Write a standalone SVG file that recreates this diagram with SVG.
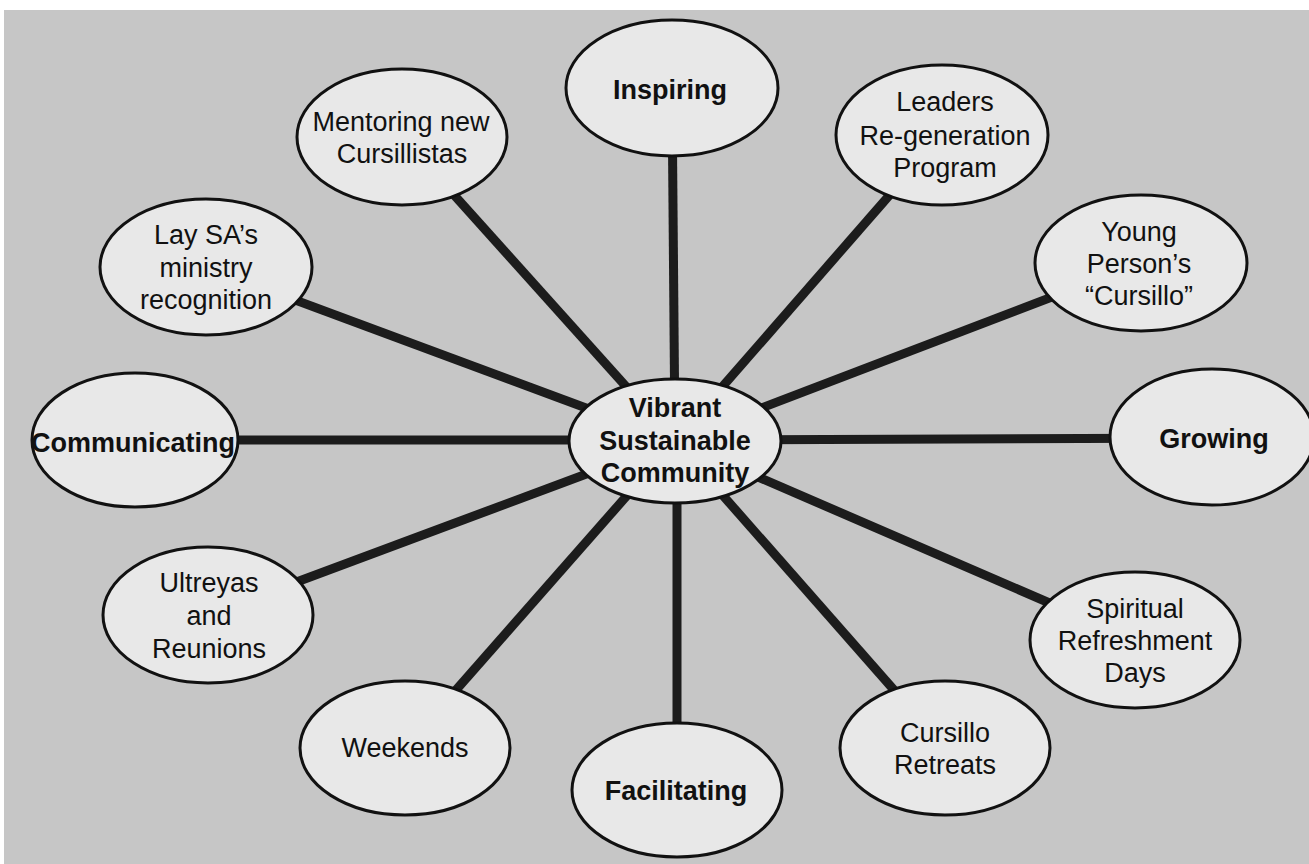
<svg xmlns="http://www.w3.org/2000/svg" width="1309" height="864" viewBox="0 0 1309 864">
<style>
.bg{fill:#c6c6c6}
.n{fill:#e8e8e8;stroke:#111;stroke-width:3}
.c line{stroke:#1c1c1c;stroke-width:9}
text{font-family:"Liberation Sans",Arial,sans-serif;font-size:27px;fill:#111;text-anchor:middle}
.b{font-weight:bold}
</style>
<rect x="0" y="0" width="1309" height="864" fill="#ffffff"/>
<rect class="bg" x="4" y="10" width="1305" height="854"/>
<g id="connectors" class="c">
<line x1="672" y1="88" x2="675" y2="441"/>
<line x1="402" y1="137" x2="675" y2="441"/>
<line x1="942" y1="135" x2="675" y2="441"/>
<line x1="206" y1="267" x2="675" y2="441"/>
<line x1="1141" y1="263" x2="675" y2="441"/>
<line x1="135" y1="440" x2="675" y2="440"/>
<line x1="1212" y1="438" x2="675" y2="440"/>
<line x1="208" y1="615" x2="675" y2="441"/>
<line x1="1135" y1="640" x2="675" y2="441"/>
<line x1="405" y1="748" x2="675" y2="441"/>
<line x1="945" y1="748" x2="675" y2="441"/>
<line x1="677" y1="790" x2="677" y2="441"/>
</g>
<g id="center">
<ellipse class="n" cx="675" cy="441" rx="106" ry="62"/>
<text class="b" x="675" y="417">Vibrant</text>
<text class="b" x="675" y="450">Sustainable</text>
<text class="b" x="675" y="482">Community</text>
</g>
<g id="inspiring">
<ellipse class="n" cx="672" cy="88" rx="106" ry="68"/>
<text class="b" x="670" y="99">Inspiring</text>
</g>
<g id="mentoring">
<ellipse class="n" cx="402" cy="137" rx="105" ry="68"/>
<text x="401" y="131">Mentoring new</text>
<text x="402" y="163">Cursillistas</text>
</g>
<g id="leaders">
<ellipse class="n" cx="942" cy="135" rx="106" ry="70"/>
<text x="945" y="111">Leaders</text>
<text x="945" y="145">Re-generation</text>
<text x="945" y="177">Program</text>
</g>
<g id="lay">
<ellipse class="n" cx="206" cy="267" rx="106" ry="68"/>
<text x="206" y="244">Lay SA’s</text>
<text x="206" y="277">ministry</text>
<text x="206" y="309">recognition</text>
</g>
<g id="young">
<ellipse class="n" cx="1141" cy="263" rx="106" ry="68"/>
<text x="1139" y="241">Young</text>
<text x="1139" y="273">Person’s</text>
<text x="1139" y="305">“Cursillo”</text>
</g>
<g id="communicating">
<ellipse class="n" cx="135" cy="440" rx="103" ry="67"/>
<text class="b" x="133" y="452">Communicating</text>
</g>
<g id="growing">
<ellipse class="n" cx="1212" cy="437" rx="102" ry="68"/>
<text class="b" x="1214" y="448">Growing</text>
</g>
<g id="ultreyas">
<ellipse class="n" cx="208" cy="615" rx="105" ry="68"/>
<text x="209" y="592">Ultreyas</text>
<text x="209" y="625">and</text>
<text x="209" y="658">Reunions</text>
</g>
<g id="spiritual">
<ellipse class="n" cx="1135" cy="640" rx="105" ry="68"/>
<text x="1135" y="618">Spiritual</text>
<text x="1135" y="650">Refreshment</text>
<text x="1135" y="682">Days</text>
</g>
<g id="weekends">
<ellipse class="n" cx="405" cy="748" rx="105" ry="67"/>
<text x="405" y="757">Weekends</text>
</g>
<g id="retreats">
<ellipse class="n" cx="945" cy="748" rx="105" ry="67"/>
<text x="945" y="742">Cursillo</text>
<text x="945" y="774">Retreats</text>
</g>
<g id="facilitating">
<ellipse class="n" cx="677" cy="790" rx="105" ry="67"/>
<text class="b" x="676" y="800">Facilitating</text>
</g>
</svg>
